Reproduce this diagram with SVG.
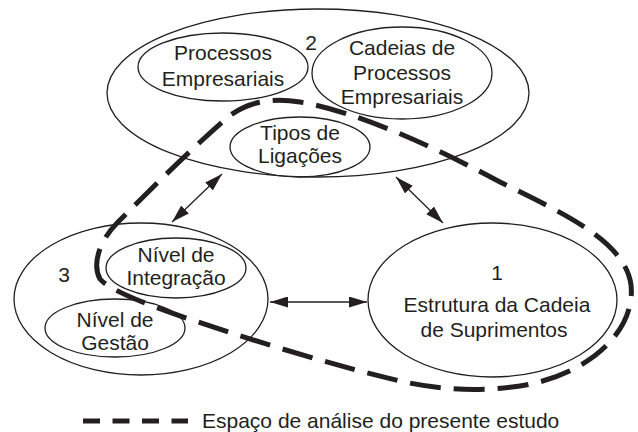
<svg xmlns="http://www.w3.org/2000/svg" width="638" height="432" viewBox="0 0 638 432">
<defs>
<style>
.e{fill:none;stroke:#231f20;stroke-width:1.3}
.t{font-family:"Liberation Sans",Arial,Helvetica,sans-serif;font-size:21px;fill:#231f20;text-anchor:middle}
.a{stroke:#231f20;stroke-width:1.3;fill:none;marker-start:url(#ah);marker-end:url(#ah)}
.d{fill:none;stroke:#231f20;stroke-width:5}
</style>
<marker id="ah" viewBox="0 0 18 11" refX="18" refY="5.5" markerWidth="18" markerHeight="11" markerUnits="userSpaceOnUse" orient="auto-start-reverse">
<path d="M0,0 L18,5.5 L0,11 Z" fill="#231f20"/>
</marker>
</defs>
<rect width="638" height="432" fill="#fff"/>
<g id="node2">
<ellipse class="e" cx="318" cy="93" rx="211" ry="84"/>
<text class="t" x="311" y="50">2</text>
</g>
<g id="processos">
<ellipse class="e" cx="223" cy="67" rx="85" ry="34"/>
<text class="t" x="223" y="60">Processos</text>
<text class="t" x="223" y="86">Empresariais</text>
</g>
<g id="cadeias">
<ellipse class="e" cx="402" cy="73" rx="90" ry="46"/>
<text class="t" x="402" y="55">Cadeias de</text>
<text class="t" x="402" y="80">Processos</text>
<text class="t" x="402" y="104">Empresariais</text>
</g>
<g id="tipos">
<ellipse class="e" cx="300" cy="147" rx="70" ry="30"/>
<text class="t" x="300" y="140">Tipos de</text>
<text class="t" x="300" y="163">Ligações</text>
</g>
<g id="node3">
<ellipse class="e" cx="141" cy="299" rx="127" ry="76"/>
<text class="t" x="64" y="282">3</text>
</g>
<g id="integracao">
<ellipse class="e" cx="176" cy="268" rx="70" ry="30"/>
<text class="t" x="176" y="262">Nível de</text>
<text class="t" x="176" y="285">Integração</text>
</g>
<g id="gestao">
<ellipse class="e" cx="115" cy="328" rx="70" ry="29"/>
<text class="t" x="115" y="327">Nível de</text>
<text class="t" x="115" y="350">Gestão</text>
</g>
<g id="node1">
<ellipse class="e" cx="492.500" cy="300" rx="124.500" ry="77"/>
<text class="t" x="497" y="280">1</text>
<text class="t" x="497" y="312">Estrutura da Cadeia</text>
<text class="t" x="494" y="337">de Suprimentos</text>
</g>
<g id="connectors">
<line class="a" x1="270" y1="302" x2="367" y2="302"/>
<line class="a" x1="172" y1="222" x2="222" y2="174"/>
<line class="a" x1="396" y1="177" x2="443" y2="223"/>
</g>
<g id="scope">
<path class="d" stroke-dasharray="31 13" d="M100,279 C94,268 95,245 118,222 C150,190 190,150 228,117 C250,100 275,98 300,102 C360,112 440,150 500,182 C560,212 625,240 631,285 C636,330 590,375 520,386 C480,392 440,390 400,381 C330,365 200,325 140,301 C120,293 105,285 100,279 Z"/>
</g>
<g id="legend">
<line class="d" x1="83" y1="421" x2="188" y2="421" stroke-dasharray="17 12.5"/>
<text class="t" x="202" y="428" style="text-anchor:start">Espaço de análise do presente estudo</text>
</g>
</svg>
